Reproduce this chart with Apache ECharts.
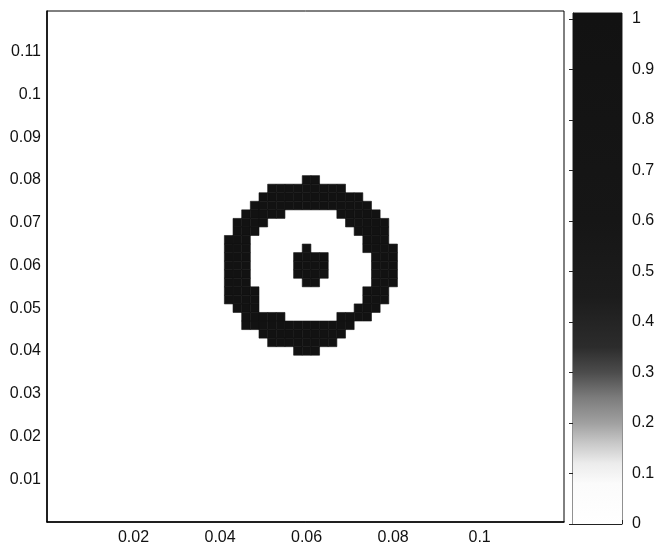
<!DOCTYPE html>
<html><head><meta charset="utf-8">
<script src="https://cdn.jsdelivr.net/npm/echarts/dist/echarts.min.js"></script>
<style>html,body{margin:0;padding:0;background:#fff}#c{width:654px;height:545px}</style>
</head><body><div id="c"></div>
<script>
// ---- data ----
const xMin = 0, xMax = 0.1195;
const yMin = 0, yMax = 0.1195;
const cellSize = 0.002;              // grid spacing of the field
const xTickValues = [0.02, 0.04, 0.06, 0.08, 0.1];
const yTickValues = [0.01, 0.02, 0.03, 0.04, 0.05, 0.06, 0.07, 0.08, 0.09, 0.1, 0.11];
const cbTickValues = [0, 0.1, 0.2, 0.3, 0.4, 0.5, 0.6, 0.7, 0.8, 0.9, 1];
const cbMax = 1.012;
// runs of cells with value 1: [row, firstCol, lastCol]; cell centre = index * cellSize; all other cells are 0
const ringRuns = [
  [40,30,31],
  [39,26,34],
  [38,25,36],
  [37,24,37],
  [36,23,27],[36,34,38],
  [35,22,25],[35,35,39],
  [34,22,24],[34,36,39],
  [33,21,23],[33,37,39],
  [32,21,23],[32,30,30],[32,37,40],
  [31,21,23],[31,29,32],[31,38,40],
  [30,21,23],[30,29,32],[30,38,40],
  [29,21,23],[29,29,32],[29,38,40],
  [28,21,23],[28,30,31],[28,38,40],
  [27,21,24],[27,37,39],
  [26,21,24],[26,37,39],
  [25,22,24],[25,36,38],
  [24,23,27],[24,34,37],
  [23,23,35],
  [22,25,34],
  [21,26,33],
  [20,29,31]
];
const ringValue = 1;
// colour map (value -> grey) as printed
const cbStops  = [0, 0.08, 0.12, 0.16, 0.2, 0.25, 0.3, 0.35, 0.45, 0.6, 1];
const cbColors = ['#ffffff','#fbfbfb','#ececec','#c8c8c8','#a0a0a0','#7c7c7c','#4c4c4c','#2c2c2c','#1c1c1c','#161616','#121212'];

// ---- build ----
const cells = [];
ringRuns.forEach(function (r) {
  for (let c = r[1]; c <= r[2]; c++) cells.push([c * cellSize, r[0] * cellSize, ringValue]);
});

function colorAt(v) {
  for (let i = 1; i < cbStops.length; i++) {
    if (v <= cbStops[i]) {
      const t = (v - cbStops[i - 1]) / (cbStops[i] - cbStops[i - 1]);
      return echarts.color.lerp(t, [cbColors[i - 1], cbColors[i]]);
    }
  }
  return cbColors[cbColors.length - 1];
}
function fmt(v) { return String(+v.toFixed(3)); }
function isTick(list, v) { return list.some(function (t) { return Math.abs(t - v) < 1e-9; }); }

const FONT = 'Liberation Sans';
const labelStyle = { fontSize: 16, color: '#111', fontFamily: FONT };

const chart = echarts.init(document.getElementById('c'), null, { renderer: 'canvas' });
chart.setOption({
  animation: false,
  backgroundColor: '#fff',
  grid: [
    { left: 47, top: 11, width: 517, height: 511, show: true, borderColor: '#000', borderWidth: 1, backgroundColor: '#fff', outerBoundsMode: 'none' },
    { left: 573, top: 13, width: 49, height: 511, show: true, borderColor: '#222', borderWidth: 1, outerBoundsMode: 'none' }
  ],
  xAxis: [
    { type: 'value', gridIndex: 0, min: xMin, max: xMax, interval: 0.02,
      axisLine: { show: true, lineStyle: { color: '#000', width: 1.5 } },
      axisTick: { show: false }, splitLine: { show: false },
      axisLabel: Object.assign({ margin: 8, showMaxLabel: false, showMinLabel: false,
        formatter: function (v) { return isTick(xTickValues, v) ? fmt(v) : ''; } }, labelStyle) },
    { type: 'value', gridIndex: 1, min: 0, max: 1, interval: 0.5,
      axisLine: { show: true, lineStyle: { color: '#222', width: 1 } },
      axisTick: { show: true, inside: true, length: 4, lineStyle: { color: '#222' } },
      splitLine: { show: false }, axisLabel: { show: false } }
  ],
  yAxis: [
    { type: 'value', gridIndex: 0, min: yMin, max: yMax, interval: 0.01,
      axisLine: { show: true, lineStyle: { color: '#000', width: 1.5 } },
      axisTick: { show: false }, splitLine: { show: false },
      axisLabel: Object.assign({ margin: 6, showMaxLabel: false, showMinLabel: false,
        formatter: function (v) { return isTick(yTickValues, v) ? fmt(v) : ''; } }, labelStyle) },
    { type: 'value', gridIndex: 1, position: 'right', min: 0, max: cbMax, interval: 0.1,
      axisLine: { show: true, lineStyle: { color: '#222', width: 1 } },
      axisTick: { show: true, inside: true, length: 4, lineStyle: { color: '#222' } },
      splitLine: { show: false },
      axisLabel: Object.assign({ margin: 10, showMaxLabel: false,
        formatter: function (v) { return isTick(cbTickValues, v) ? fmt(v) : ''; } }, labelStyle) }
  ],
  series: [
    { type: 'custom', xAxisIndex: 0, yAxisIndex: 0, data: cells, clip: true,
      renderItem: function (params, api) {
        const x = api.value(0), y = api.value(1), v = api.value(2);
        const a = api.coord([x - cellSize / 2, y + cellSize / 2]);
        const b = api.coord([x + cellSize / 2, y - cellSize / 2]);
        const col = colorAt(v);
        return { type: 'rect', shape: { x: a[0], y: a[1], width: b[0] - a[0], height: b[1] - a[1] },
                 style: { fill: col, stroke: col, lineWidth: 0.6 } };
      } },
    { type: 'custom', xAxisIndex: 1, yAxisIndex: 1, data: [[0, 0]], z: 1,
      renderItem: function (params, api) {
        const a = api.coord([0, cbMax]);
        const b = api.coord([1, 0]);
        const stops = cbStops.map(function (s, i) { return { offset: s / cbMax, color: cbColors[i] }; });
        stops.push({ offset: 1, color: cbColors[cbColors.length - 1] });
        return { type: 'rect', shape: { x: a[0], y: a[1], width: b[0] - a[0], height: b[1] - a[1] },
                 style: { fill: new echarts.graphic.LinearGradient(0, 1, 0, 0, stops) } };
      } }
  ]
});
</script></body></html>
